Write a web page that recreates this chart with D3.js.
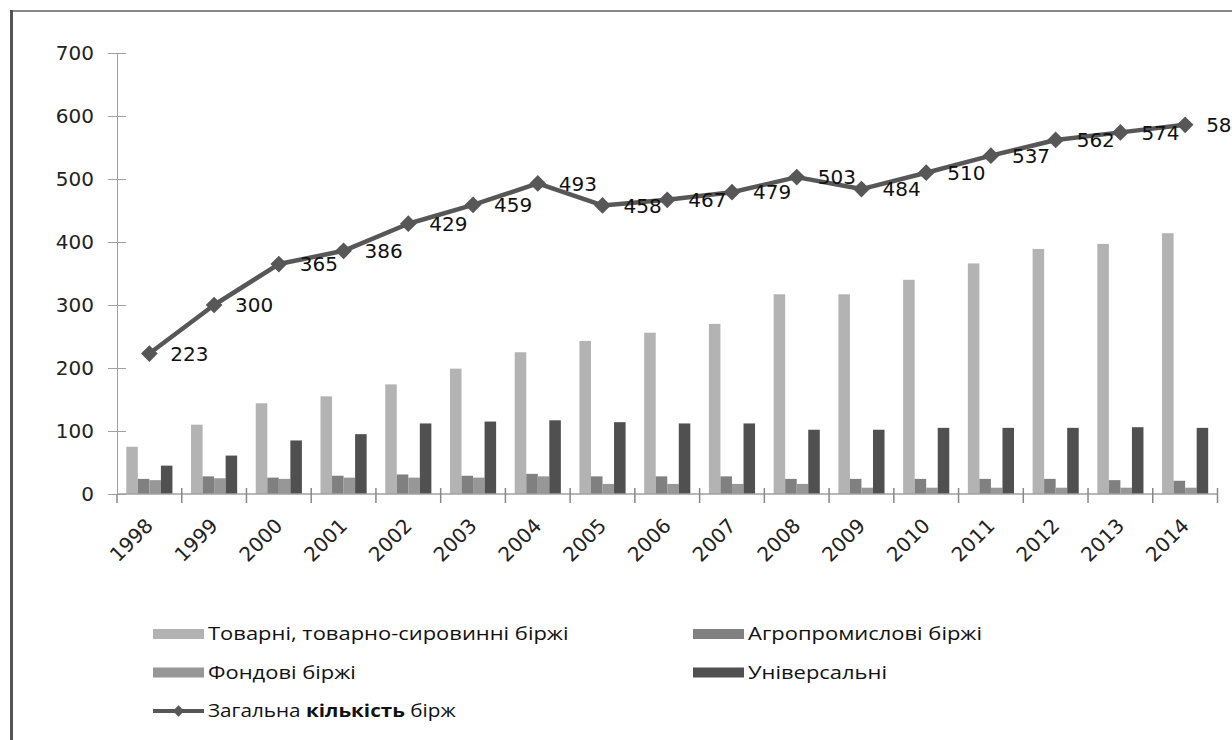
<!DOCTYPE html>
<html>
<head>
<meta charset="utf-8">
<script src="https://cdn.jsdelivr.net/npm/d3@7"></script>
<style>
  body { margin: 0; background: #fff; }
  svg { display: block; }
</style>
</head>
<body>
<div id="chart"></div>
<script>
// === data ===
const years = ["1998","1999","2000","2001","2002","2003","2004","2005","2006",
  "2007","2008","2009","2010","2011","2012","2013","2014"];
const commodity = [75,110,144,155,174,199,225,243,256,270,317,317,340,366,389,397,414];
const agro      = [24,28,26,29,31,29,32,28,28,28,24,24,24,24,24,22,21];
const stock     = [22,25,24,26,26,26,28,16,16,16,16,10,10,10,10,10,10];
const universal = [45,61,85,95,112,115,117,114,112,112,102,102,105,105,105,106,105];
const total     = [223,300,365,386,429,459,493,458,467,479,503,484,510,537,562,574,586];
const yTicks = [0,100,200,300,400,500,600,700];

const seriesNames = ["Товарні, товарно-сировинні біржі", "Агропромислові біржі",
  "Фондові біржі", "Універсальні"];
const lineName = "Загальна кількість бірж";
const colors = ["#b3b3b3", "#808080", "#979797", "#505050"];
const barSeries = [commodity, agro, stock, universal];

const width = 1232, height = 740;
const svg = d3.select("#chart").append("svg")
  .attr("width", width).attr("height", height);

// frame
svg.append("line").attr("x1", 11).attr("x2", width).attr("y1", 11).attr("y2", 11)
  .attr("stroke", "#888").attr("stroke-width", 2);
svg.append("line").attr("x1", 11.5).attr("x2", 11.5).attr("y1", 10).attr("y2", height)
  .attr("stroke", "#555").attr("stroke-width", 3);

// === scales ===
const x = d3.scaleBand().domain(years).range([117, 1217.5]).padding(0);
const inner = d3.scaleBand().domain(d3.range(4)).range([9.3, x.bandwidth() - 9.3]).padding(0);
const y = d3.scaleLinear().domain([0, 700]).range([494, 53]);

const axisColor = "#a0a0a0";
const tickFont = "'DejaVu Sans', Verdana, sans-serif";

// === y axis ===
const yAxis = svg.append("g")
  .attr("transform", "translate(117,0)")
  .call(d3.axisLeft(y).tickValues(yTicks).tickSize(9).tickSizeOuter(0).tickPadding(14));
yAxis.select(".domain").attr("stroke", axisColor);
yAxis.selectAll(".tick line").attr("stroke", axisColor).attr("x1", 9).attr("x2", -9);
yAxis.selectAll(".tick text")
  .attr("font-family", tickFont).attr("font-size", 20).attr("fill", "#222");

// === bars ===
const groups = svg.append("g").selectAll("g")
  .data(years).join("g")
  .attr("transform", d => `translate(${x(d)},0)`);

groups.selectAll("rect")
  .data((d, i) => barSeries.map((s, k) => ({ k, v: s[i] })))
  .join("rect")
  .attr("x", d => inner(d.k))
  .attr("width", inner.bandwidth())
  .attr("y", d => y(d.v))
  .attr("height", d => y(0) - y(d.v))
  .attr("fill", d => colors[d.k]);

// === x axis ===
const xAxis = svg.append("g")
  .attr("transform", "translate(0,494)")
  .call(d3.axisBottom(x).tickSize(0).tickSizeOuter(0).tickPadding(0));
xAxis.select(".domain").remove();
xAxis.selectAll(".tick text")
  .attr("font-family", tickFont).attr("font-size", 20).attr("fill", "#222")
  .attr("text-anchor", "end")
  .attr("dy", 0)
  .attr("transform", "translate(5,33) rotate(-45)");

svg.append("line")
  .attr("x1", x.range()[0]).attr("x2", x.range()[1])
  .attr("y1", y(0)).attr("y2", y(0))
  .attr("stroke", axisColor).attr("stroke-width", 1.5);

const bounds = years.map(d => x(d)).concat([x.range()[1]]);
svg.append("g").selectAll("line")
  .data(bounds).join("line")
  .attr("x1", d => d).attr("x2", d => d)
  .attr("y1", (d, i) => i === 0 ? y(0) : y(0) - 6)
  .attr("y2", y(0) + 9)
  .attr("stroke", "#888").attr("stroke-width", 1.5);

// === total line ===
const cx = d => x(d) + x.bandwidth() / 2;
const lineColor = "#575757";
const line = d3.line().x((d, i) => cx(years[i])).y(d => y(d));
svg.append("path")
  .datum(total)
  .attr("d", line)
  .attr("fill", "none")
  .attr("stroke", lineColor)
  .attr("stroke-width", 4.5)
  .attr("stroke-linejoin", "round");

const diamond = d3.symbol().type(d3.symbolSquare).size(140);
svg.append("g").selectAll("path")
  .data(total).join("path")
  .attr("d", diamond)
  .attr("fill", lineColor)
  .attr("transform", (d, i) => `translate(${cx(years[i])},${y(d)}) rotate(45)`);

svg.append("g").selectAll("text")
  .data(total).join("text")
  .attr("x", (d, i) => cx(years[i]) + 21)
  .attr("y", d => y(d))
  .attr("dy", "0.36em")
  .attr("font-family", tickFont).attr("font-size", 20).attr("fill", "#111")
  .text(d => d);

// === legend ===
const legendFont = "'Open Sans', sans-serif";
const legendItems = [
  { name: seriesNames[0], color: colors[0], lx: 153, ly: 634 },
  { name: seriesNames[1], color: colors[1], lx: 693, ly: 634 },
  { name: seriesNames[2], color: colors[2], lx: 153, ly: 672.5 },
  { name: seriesNames[3], color: colors[3], lx: 693, ly: 672.5 }
];
const legend = svg.append("g");
const li = legend.selectAll("g").data(legendItems).join("g")
  .attr("transform", d => `translate(${d.lx},${d.ly})`);
li.append("rect").attr("x", 0).attr("y", -5).attr("width", 51).attr("height", 10)
  .attr("fill", d => d.color);
li.append("text").attr("transform", "translate(55,0) scale(1.22,1)").attr("dy", "0.36em")
  .attr("font-family", legendFont).attr("font-size", 18).attr("fill", "#111")
  .text(d => d.name);

const ll = legend.append("g").attr("transform", "translate(153,711)");
ll.append("line").attr("x1", 0).attr("x2", 51).attr("stroke", lineColor).attr("stroke-width", 4);
ll.append("path").attr("d", d3.symbol().type(d3.symbolSquare).size(64))
  .attr("fill", lineColor).attr("transform", "translate(25.5,0) rotate(45)");
const lt = ll.append("text").attr("transform", "translate(55,0) scale(1.15,1)").attr("dy", "0.36em")
  .attr("font-family", legendFont).attr("font-size", 18).attr("fill", "#111");
lineName.split(" ").forEach((w, i) => {
  lt.append("tspan").attr("font-weight", w === "кількість" ? 700 : 400)
    .text((i ? " " : "") + w);
});
</script>
</body>
</html>
